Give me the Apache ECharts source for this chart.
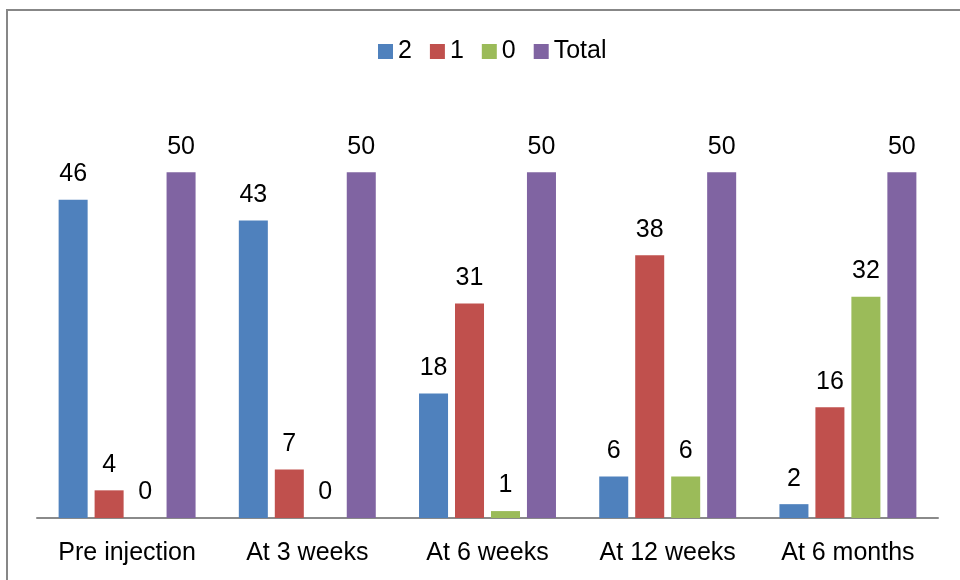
<!DOCTYPE html>
<html>
<head>
<meta charset="utf-8">
<script src="https://cdn.jsdelivr.net/npm/echarts@6/dist/echarts.min.js"></script>
<style>
  html, body { margin: 0; padding: 0; background: #fff; }
  #chart { width: 960px; height: 580px; }
</style>
</head>
<body>
<div id="chart"></div>
<script>
// Time points of the assessment
const categories = ['Pre injection', 'At 3 weeks', 'At 6 weeks', 'At 12 weeks', 'At 6 months'];

// Counts of patients per score at each time point
const score2 = [46, 43, 18, 6, 2];
const score1 = [4, 7, 31, 38, 16];
const score0 = [0, 0, 1, 6, 32];
const total = [50, 50, 50, 50, 50];

const seriesNames = ['2', '1', '0', 'Total'];
const seriesData = [score2, score1, score0, total];
const colors = ['#4F81BD', '#C0504D', '#9BBB59', '#8064A2'];

const font = 'Liberation Sans, Arial, sans-serif';

const chart = echarts.init(document.getElementById('chart'), null, { renderer: 'canvas' });

chart.setOption({
  animation: false,
  backgroundColor: '#ffffff',
  graphic: [{
    type: 'rect',
    shape: { x: 7, y: 10, width: 1000, height: 620 },
    style: { fill: 'none', stroke: '#878787', lineWidth: 2 },
    silent: true
  }],
  legend: {
    top: 34,
    left: 373,
    itemWidth: 15,
    itemHeight: 15,
    itemGap: 18,
    icon: 'rect',
    textStyle: { fontFamily: font, fontSize: 25, color: '#000' },
    data: seriesNames
  },
  grid: { left: 37, right: 22, top: 103, bottom: 62, containLabel: false },
  xAxis: {
    type: 'category',
    data: categories,
    axisLine: { show: true, lineStyle: { color: '#8a8a8a', width: 2 } },
    axisTick: { show: false },
    axisLabel: { fontFamily: font, fontSize: 25, color: '#000', margin: 23, interval: 0 }
  },
  yAxis: {
    type: 'value',
    min: 0,
    max: 60,
    interval: 10,
    show: false,
    splitLine: { show: false }
  },
  series: seriesData.map((d, i) => ({
    name: seriesNames[i],
    type: 'bar',
    data: d,
    barGap: '24%',
    barCategoryGap: '24%',
    itemStyle: { color: colors[i] },
    label: {
      show: true,
      position: 'top',
      distance: 13,
      fontFamily: font,
      fontSize: 25,
      color: '#000'
    }
  }))
});
</script>
</body>
</html>
